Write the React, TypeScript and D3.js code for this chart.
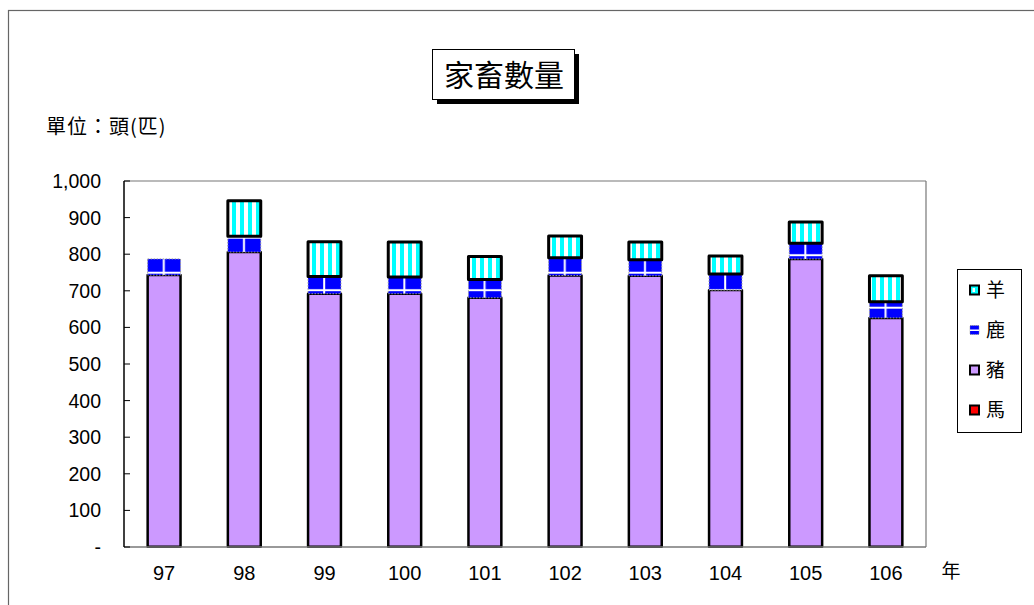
import React from "react";
import * as d3 from "d3";

// 家畜數量 (單位：頭/匹)
const years = ["97", "98", "99", "100", "101", "102", "103", "104", "105", "106"];
const horse = [1, 1, 1, 1, 1, 1, 1, 1, 1, 1];
const pig = [742, 805, 691, 691, 680, 741, 740, 701, 786, 625];
const deer = [44, 43, 47, 46, 50, 48, 44, 44, 43, 44];
const sheep = [0, 97, 95, 95, 63, 60, 48, 49, 58, 71];
const yTicks = [0, 100, 200, 300, 400, 500, 600, 700, 800, 900, 1000];
const keys = ["馬", "豬", "鹿", "羊"];
const legendKeys = ["羊", "鹿", "豬", "馬"];

const W = 1034;
const H = 605;
const plot = { left: 124, right: 926, top: 181, bottom: 547 };
const latin = "'Liberation Sans', Arial, sans-serif";
const cjk = "'Noto Sans CJK TC', 'Liberation Sans', sans-serif";

export default function App() {
  const rows = years.map((y, i) => ({
    year: y,
    馬: horse[i],
    豬: pig[i],
    鹿: deer[i],
    羊: sheep[i],
  }));
  const series = d3.stack<any>().keys(keys)(rows);

  const x = d3.scaleBand().domain(years).range([plot.left, plot.right]);
  const y = d3.scaleLinear().domain([0, 1000]).range([plot.bottom, plot.top]);
  const bw = x.bandwidth() * 0.41;
  const barX = (yr: string) => (x(yr) as number) + (x.bandwidth() - bw) / 2;
  const fmt = d3.format(",");

  const fillFor = (key: string, yr: string) => {
    if (key === "馬") return "#FF0000";
    if (key === "豬") return "#CC99FF";
    if (key === "鹿") return `url(#deer-${yr})`;
    return "url(#sheep)";
  };

  return (
    <svg
      width={W}
      height={H}
      style={{ position: "absolute", left: 0, top: 0, background: "#fff" }}
    >
      <defs>
        <pattern id="sheep" patternUnits="userSpaceOnUse" width={8} height={8}>
          <rect width={8} height={8} fill="#fff" />
          <rect x={0} width={4} height={8} fill="#00FFFF" />
        </pattern>
        {years.map((yr) => (
          <pattern
            key={yr}
            id={`deer-${yr}`}
            patternUnits="userSpaceOnUse"
            x={barX(yr)}
            y={272.7 - 16.5}
            width={bw}
            height={17.5}
          >
            <rect width={bw} height={17.5} fill="#0000FF" />
            <rect x={0} y={15.5} width={bw} height={2} fill="#fff" />
            <rect x={bw * 0.46} y={0} width={2} height={17.5} fill="#fff" />
          </pattern>
        ))}
      </defs>

      {/* outer frame */}
      <rect x={8.5} y={10.5} width={W} height={H} fill="none" stroke="#666" strokeWidth={1.2} />

      {/* title */}
      <rect x={437} y={54} width={142} height={50} fill="#000" />
      <rect x={432.5} y={49.5} width={142} height={50} fill="#fff" stroke="#000" strokeWidth={1} />
      <text x={504} y={86} textAnchor="middle" fontFamily={cjk} fontSize={30} fill="#000">
        家畜數量
      </text>

      <text x={46} y={134} fontFamily={cjk} fontSize={20} letterSpacing={1} fill="#000">
        單位：頭(匹)
      </text>

      {/* plot frame */}
      <line x1={plot.left} x2={plot.right} y1={plot.top} y2={plot.top} stroke="#777" strokeWidth={1.2} />
      <line x1={plot.right} x2={plot.right} y1={plot.top} y2={plot.bottom} stroke="#777" strokeWidth={1.2} />

      {/* bars */}
      {series.map((s) => (
        <g key={s.key}>
          {s.map((d, i) => {
            const yr = years[i];
            const y0 = y(d[0]);
            const y1 = y(d[1]);
            const h = y0 - y1;
            if (h <= 0) return null;
            const isDeer = s.key === "鹿";
            const sw = s.key === "羊" ? 3 : s.key === "馬" ? 1 : 2.5;
            return (
              <rect
                key={yr}
                x={barX(yr)}
                y={y1}
                width={bw}
                height={h}
                fill={fillFor(s.key as string, yr)}
                stroke={isDeer ? "#999" : "#000"}
                strokeWidth={isDeer ? 1 : sw}
                strokeDasharray={isDeer ? "1.5 1.5" : undefined}
                strokeLinejoin="round"
              />
            );
          })}
        </g>
      ))}

      {/* axes */}
      <line x1={plot.left} x2={plot.right} y1={plot.bottom} y2={plot.bottom} stroke="#777" strokeWidth={1.5} />
      <line x1={plot.left} x2={plot.left} y1={plot.top} y2={plot.bottom} stroke="#000" strokeWidth={1.5} />
      {yTicks.map((t) => (
        <g key={t}>
          <line x1={plot.left} x2={plot.left + 6} y1={y(t)} y2={y(t)} stroke="#000" strokeWidth={1} />
          <text
            x={101}
            y={y(t)}
            dy="0.36em"
            textAnchor="end"
            fontFamily={latin}
            fontSize={19.5}
            fill="#000"
          >
            {t === 0 ? "-" : fmt(t)}
          </text>
        </g>
      ))}
      {years.map((yr) => (
        <text
          key={yr}
          x={(x(yr) as number) + x.bandwidth() / 2}
          y={580}
          textAnchor="middle"
          fontFamily={latin}
          fontSize={20}
          fill="#000"
        >
          {yr}
        </text>
      ))}
      <text x={951} y={578} textAnchor="middle" fontFamily={cjk} fontSize={19} fill="#000">
        年
      </text>

      {/* legend */}
      <rect x={957.5} y={269.5} width={64} height={163} fill="#fff" stroke="#000" strokeWidth={1} />
      {legendKeys.map((k, i) => {
        const cy = 290 + i * 40;
        let sw: React.ReactNode;
        if (k === "羊") {
          sw = (
            <>
              <rect x={970} y={cy - 4.5} width={9} height={9} fill="#00FFFF" stroke="#000" strokeWidth={2} />
              <rect x={972.5} y={cy - 2} width={2.5} height={4} fill="#fff" />
            </>
          );
        } else if (k === "鹿") {
          sw = (
            <>
              <rect x={970} y={cy - 4.5} width={9} height={9} fill="#0000FF" stroke="#888" strokeWidth={0.8} strokeDasharray="1 1" />
              <rect x={970} y={cy - 0.5} width={9} height={1.5} fill="#fff" />
            </>
          );
        } else {
          sw = (
            <rect
              x={970}
              y={cy - 4.5}
              width={9}
              height={9}
              fill={k === "豬" ? "#CC99FF" : "#FF0000"}
              stroke="#000"
              strokeWidth={2}
            />
          );
        }
        return (
          <g key={k}>
            {sw}
            <text x={986} y={cy} dy="0.36em" fontFamily={cjk} fontSize={19} fill="#000">
              {k}
            </text>
          </g>
        );
      })}
    </svg>
  );
}
